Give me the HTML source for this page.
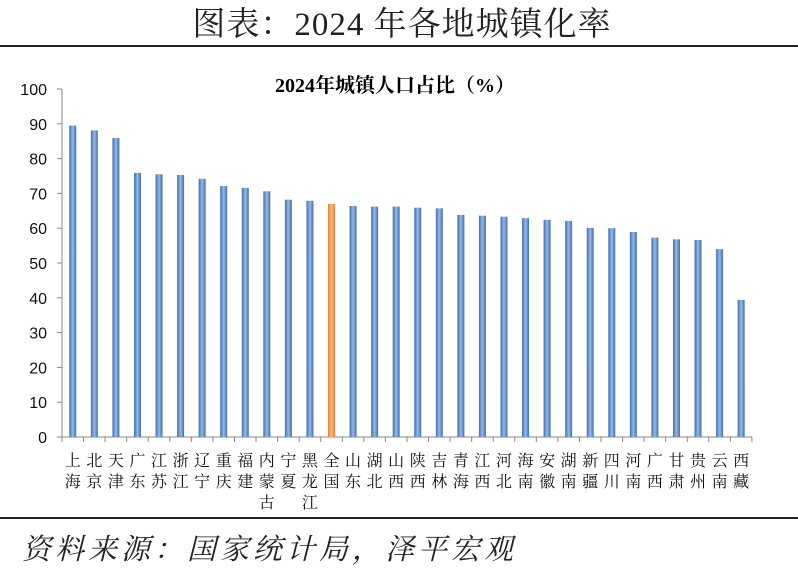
<!DOCTYPE html>
<html><head><meta charset="utf-8"><style>
body{margin:0;background:#fff;width:798px;height:579px;overflow:hidden}
</style></head><body>
<svg width="798" height="579" xmlns="http://www.w3.org/2000/svg">
<defs>
<linearGradient id="b" x1="0" x2="1" y1="0" y2="0">
<stop offset="0" stop-color="#3a6fb5"/><stop offset="0.5" stop-color="#9bb8dc"/><stop offset="1" stop-color="#3a6fb5"/></linearGradient>
<linearGradient id="o" x1="0" x2="1" y1="0" y2="0">
<stop offset="0" stop-color="#e8813a"/><stop offset="0.5" stop-color="#f7b98a"/><stop offset="1" stop-color="#e8813a"/></linearGradient>
</defs>
<text x="402" y="35" text-anchor="middle" font-family="Liberation Serif,'Noto Serif CJK SC',serif" font-size="33" letter-spacing="1" fill="#222">图表：2024 年各地城镇化率</text>
<line x1="0" y1="46" x2="798" y2="46" stroke="#222" stroke-width="2"/>
<line x1="0" y1="518" x2="798" y2="518" stroke="#222" stroke-width="2"/>
<text x="22" y="559" font-family="'Noto Serif CJK SC',serif" font-size="29" letter-spacing="4" font-style="italic" fill="#222">资料来源：国家统计局，泽平宏观</text>
<text x="395" y="92" text-anchor="middle" font-family="Liberation Serif,'Noto Serif CJK SC',serif" font-size="20" font-weight="bold" fill="#000">2024年城镇人口占比（%）</text>
<g id="g"></g>
</svg>
<script>
var d=[["上海",89.5],["北京",88.1],["天津",85.9],["广东",75.9],["江苏",75.5],["浙江",75.3],["辽宁",74.2],["重庆",72.1],["福建",71.6],["内蒙古",70.6],["宁夏",68.2],["黑龙江",67.9],["全国",67.0],["山东",66.4],["湖北",66.2],["山西",66.2],["陕西",65.9],["吉林",65.7],["青海",63.8],["江西",63.6],["河北",63.3],["海南",62.9],["安徽",62.4],["湖南",62.1],["新疆",60.1],["四川",60.0],["河南",58.9],["广西",57.3],["甘肃",56.8],["贵州",56.6],["云南",54.0],["西藏",39.4]];
var s='',y0=437,k=3.48,F="font-family=\"Liberation Sans,'Noto Serif CJK SC',sans-serif\"";
s+='<line x1="62" y1="89" x2="62" y2="437" stroke="#888"/><line x1="62" y1="437" x2="752" y2="437" stroke="#888"/>';
for(var v=0;v<=100;v+=10){var y=y0-v*k;s+='<line x1="57" y1="'+y+'" x2="62" y2="'+y+'" stroke="#888"/><text x="47" y="'+(y+6)+'" text-anchor="end" '+F+' font-size="16" fill="#111">'+v+'</text>';}
var w=21.56;
for(var i=0;i<=32;i++){var x=62+i*w;s+='<line x1="'+x+'" y1="437" x2="'+x+'" y2="442" stroke="#888"/>';}
d.forEach(function(e,i){var cx=62+w*(i+0.5),h=e[1]*k;
s+='<rect x="'+(cx-3.5)+'" y="'+(y0-h)+'" width="7" height="'+h+'" fill="url(#'+(e[0]=="全国"?'o':'b')+')"/>';
for(var j=0;j<e[0].length;j++)s+='<text x="'+cx+'" y="'+(466+j*21)+'" text-anchor="middle" font-family="\'Noto Serif CJK SC\',serif" font-size="16" fill="#111">'+e[0][j]+'</text>';});
document.getElementById('g').innerHTML=s;
</script>
</body></html>
